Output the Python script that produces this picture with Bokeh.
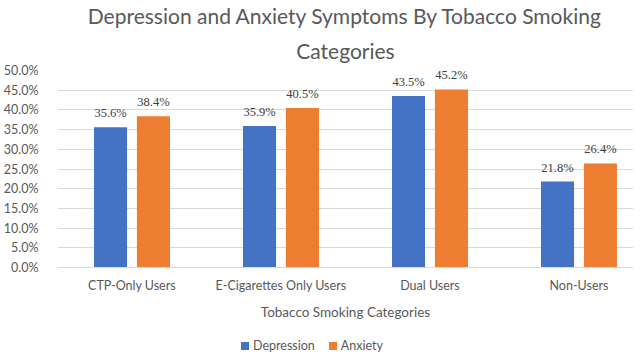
from bokeh.plotting import figure
from bokeh.layouts import column
from bokeh.models import (ColumnDataSource, LabelSet, Title, Div,
                          PrintfTickFormatter, FixedTicker, Range1d)
from bokeh.embed import file_html
from bokeh.resources import INLINE

categories = ["CTP-Only Users", "E-Cigarettes Only Users", "Dual Users", "Non-Users"]
depression = [35.6, 35.9, 43.5, 21.8]
anxiety = [38.4, 40.5, 45.2, 26.4]
y_ticks = [0, 5, 10, 15, 20, 25, 30, 35, 40, 45, 50]
series_names = ["Depression", "Anxiety"]

BLUE = "#4472C4"
ORANGE = "#ED7D31"
FONT = "Lato"
GRAY = "#595959"

centers = [i + 0.5 for i in range(len(categories))]
off = 0.144
bw = 0.222
X_END = 3.866

src_d = ColumnDataSource(dict(x=[c - off for c in centers], y=depression,
                              lab=[f"{v:.1f}%" for v in depression]))
src_a = ColumnDataSource(dict(x=[c + off for c in centers], y=anxiety,
                              lab=[f"{v:.1f}%" for v in anxiety]))

p = figure(frame_width=576, frame_height=197, output_backend="svg", toolbar_location=None,
           x_range=Range1d(0, X_END), y_range=Range1d(0, 50),
           min_border_left=48, min_border_right=0, min_border_top=0, min_border_bottom=70)
p.outline_line_color = None
p.background_fill_color = "white"
p.border_fill_color = "white"

p.vbar(x="x", top="y", width=bw, source=src_d, color=BLUE, line_color=None)
p.vbar(x="x", top="y", width=bw, source=src_a, color=ORANGE, line_color=None)

for s in (src_d, src_a):
    p.add_layout(LabelSet(x="x", y="y", text="lab", source=s, text_align="center",
                          text_baseline="bottom", y_offset=7, text_font=FONT,
                          text_font_size="12.5px", text_color="#404040"))

# axes
p.xgrid.grid_line_color = None
p.ygrid.grid_line_color = "#d9d9d9"
p.ygrid.ticker = FixedTicker(ticks=y_ticks)

p.yaxis.ticker = FixedTicker(ticks=y_ticks)
p.yaxis.formatter = PrintfTickFormatter(format="%.1f%%")
p.yaxis.axis_line_color = None
p.yaxis.major_tick_line_color = None
p.yaxis.minor_tick_line_color = None
p.yaxis.major_label_standoff = 13
p.yaxis.major_label_text_font = FONT
p.yaxis.major_label_text_font_size = "12.5px"
p.yaxis.major_label_text_color = GRAY

p.xaxis.ticker = FixedTicker(ticks=centers)
p.xaxis.major_label_overrides = {c: n for c, n in zip(centers, categories)}
p.xaxis.axis_line_color = "#d9d9d9"
p.xaxis.major_tick_line_color = None
p.xaxis.minor_tick_line_color = None
p.xaxis.major_tick_in = 0
p.xaxis.major_tick_out = 0
p.xaxis.major_label_standoff = 10
p.xaxis.major_label_text_font = FONT
p.xaxis.major_label_text_font_size = "12.5px"
p.xaxis.major_label_text_color = GRAY
p.xaxis.axis_label = "Tobacco Smoking Categories"
p.xaxis.axis_label_text_font = FONT
p.xaxis.axis_label_text_font_size = "13.5px"
p.xaxis.axis_label_text_font_style = "normal"
p.xaxis.axis_label_text_color = GRAY
p.xaxis.axis_label_standoff = 8

# title (two lines)
p.add_layout(Title(text="Categories", align="center", text_font=FONT,
                   text_font_size="21px", text_font_style="normal",
                   text_color=GRAY, standoff=16), "above")
p.add_layout(Title(text="Depression and Anxiety Symptoms By Tobacco Smoking",
                   align="center", text_font=FONT, text_font_size="21px",
                   text_font_style="normal", text_color=GRAY, standoff=0), "above")

# legend (below the axis title)
sq = ('<span style="display:inline-block;width:8px;height:8px;background:{c};'
      'margin-right:4px;"></span>')
items = "".join(
    f'<span style="margin:0 7px;">{sq.format(c=c)}{n}</span>'
    for n, c in zip(series_names, [BLUE, ORANGE]))
legend_div = Div(text=items, width=624, height=18, margin=(0, 0, 0, 0),
                 styles={"text-align": "center", "font-family": FONT,
                         "font-size": "12.5px", "color": GRAY,
                         "line-height": "18px", "width": "624px"})

layout = column(p, legend_div, spacing=0)
open("out.html", "w").write(file_html(layout, INLINE))
